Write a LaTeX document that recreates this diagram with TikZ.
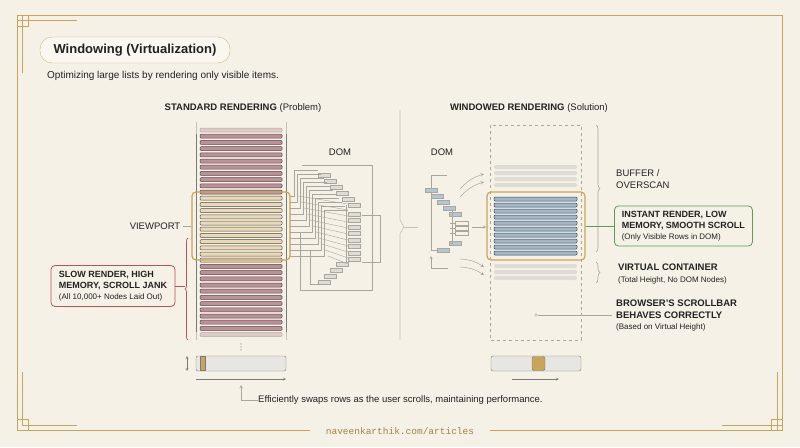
\documentclass[tikz,border=0pt]{standalone}
\usepackage{fontspec}
\setmainfont{Liberation Sans}
\newfontfamily\urlfont{Liberation Mono}
\usetikzlibrary{decorations.pathreplacing,positioning}
\definecolor{paper}{HTML}{F5F1E6}
\definecolor{gold}{HTML}{C9A45C}
\definecolor{ink}{HTML}{222222}
\definecolor{rowred}{HTML}{BE9096}
\definecolor{rowsand}{HTML}{EAD9B4}
\definecolor{rowblue}{HTML}{A3B6C8}
\definecolor{navy}{HTML}{3A4A5E}
\definecolor{fog}{HTML}{DEDCD5}
\definecolor{wire}{HTML}{A9A69C}
\definecolor{alert}{HTML}{B5545A}
\definecolor{okgreen}{HTML}{5E9A5A}

\tikzset{
  label/.style={font=\fontsize{9.5}{11.5}\selectfont, text=ink, align=left, inner sep=0pt},
  head/.style={font=\fontsize{9.5}{11}\selectfont, text=ink, inner sep=0pt},
  row/.style={draw=ink!80, line width=0.5pt, rounded corners=1pt},
  tbox/.style={draw=wire, fill=#1, line width=0.4pt},
  viewbox/.style={draw=gold, line width=1.2pt, rounded corners=4pt},
  callout/.style={draw=#1, line width=0.8pt, rounded corners=4pt, fill=paper,
                  font=\fontsize{9}{11}\selectfont, text=ink, align=left, inner sep=4pt},
}

\begin{document}
\begin{tikzpicture}[x=1pt,y=-1pt]

    \fill[paper] (0,0) rectangle (800,447);
    \useasboundingbox (0,0) rectangle (800,447);

    % frame
    \draw[gold, line width=0.9pt] (310,430) -- (17,430) -- (17,15) -- (782,15) -- (782,430) -- (490,430);
    \draw[gold, line width=0.6pt] (17,20) -- (77,20) (22,15) -- (22,73);
    \draw[gold, line width=0.6pt] (782,425) -- (722,425) (777,430) -- (777,372);
    \draw[gold, line width=0.6pt] (17,15) rectangle (28,26) (771,419) rectangle (782,430);
    \draw[gold, line width=0.6pt] (17,430) rectangle (28,419) (22,425) -- (77,425) (22,425) -- (22,372);
    \node[font=\urlfont\fontsize{9.5}{11}\selectfont, text=gold!80!black] (url) at (400,431) {naveenkarthik.com/articles};

    % title
    \node[draw=gold!80, fill=paper!60!white, rounded corners=12pt, minimum width=190pt, minimum height=26pt,
          font=\bfseries\fontsize{13}{15}\selectfont, text=ink] (title) at (135,50) {Windowing (Virtualization)};
    \node[label, anchor=west, font=\fontsize{10}{12}\selectfont] (sub) at (47,76) {Optimizing large lists by rendering only visible items.};

    % ---- standard rendering
    \node[head] (stdhead) at (243,108) {\textbf{STANDARD RENDERING} (Problem)};
    \draw[ink!60, line width=0.7pt] (196,122) -- (196,340) (286,122) -- (286,340);
    \foreach \i in {0,...,33} {
      \pgfmathsetmacro{\yy}{128+6.2*\i}
      \ifdim\yy pt<190pt
        \draw[row, fill=rowred] (200,\yy) rectangle (282,\yy+4);
      \else\ifdim\yy pt<259pt
        \draw[row, fill=rowsand] (200,\yy) rectangle (282,\yy+4);
      \else
        \draw[row, fill=rowred] (200,\yy) rectangle (282,\yy+4);
      \fi\fi
    }
    \fill[paper, opacity=0.6] (195,120) rectangle (287,134);
    \fill[paper, opacity=0.6] (195,332) rectangle (287,342);
    \node[viewbox, minimum width=98pt, minimum height=68pt] (stdview) at (241,226) {};
    \foreach \d in {344,347,350} \fill[ink!60] (241,\d) circle (0.6pt);

    \node[label] (vplabel) at (155,226) {VIEWPORT};
    \draw[wire] (vplabel.east) ++(3,0) -- (stdview.west);

    \draw[alert, line width=0.7pt, decorate, decoration={brace, amplitude=3pt, mirror}]
        (188,238) -- (188,340);
    \coordinate (bracetip) at (185,286);
    \node[callout=alert, minimum width=124pt, minimum height=41pt] (slow) at (113,286)
        {\textbf{SLOW RENDER, HIGH}\\\textbf{MEMORY, SCROLL JANK}\\{\fontsize{8}{9.5}\selectfont (All 10,000+ Nodes Laid Out)}};
    \draw[alert, line width=0.7pt] (slow.east) -- (bracetip);

    % left DOM tree
    \node[label] (domL) at (340,152) {DOM};
    \foreach \i in {0,...,5}
      \draw[tbox=fog] (318+6*\i,173+6*\i) rectangle (330+6*\i,177+6*\i);
    \foreach \i in {0,...,7}
      \draw[tbox=fog] (348,212+6.5*\i) rectangle (360,216+6.5*\i);
    \foreach \i in {0,...,3}
      \draw[tbox=fog] (336-6*\i,262+6*\i) rectangle (348-6*\i,266+6*\i);
    \foreach \i in {0,...,10} {
      \pgfmathsetmacro{\yy}{196+6*\i}
      \pgfmathsetmacro{\xx}{294+3*\i}
      \draw[wire, line width=0.4pt] (290,\yy) -- (\xx,\yy) -- (\xx,170+4*\i) -- (318+3*\i,170+4*\i);
      \draw[wire, line width=0.4pt] (\xx+4,\yy) -- (348,\yy+8);
    }
    \draw[wire, line width=0.4pt] (302,165) -- (372,165) -- (372,290) -- (300,290) -- (300,232);
    \draw[wire, line width=0.4pt] (362,215) -- (380,215) -- (380,262) -- (362,262);
    \draw[wire, line width=0.4pt] (346,205) -- (346,262) (310,250) -- (310,284) -- (320,284);

    % divider
    \draw[wire!70, line width=0.6pt] (400,110) -- (400,220) -- (404,227) -- (400,234) -- (400,340);
    \draw[wire!70, line width=0.6pt] (404,227) -- (418,227);

    % ---- windowed rendering
    \node[head] (winhead) at (529,108) {\textbf{WINDOWED RENDERING} (Solution)};
    \draw[wire, dashed, line width=0.5pt] (490,125) rectangle (581,340);
    \foreach \i in {0,...,3}
      \fill[fog, rounded corners=1.5pt] (494,165+6*\i) rectangle (577,169+6*\i);
    \foreach \i in {0,...,2}
      \fill[fog, rounded corners=1.5pt] (494,264+6*\i) rectangle (577,268+6*\i);
    \foreach \i in {0,...,9}
      \draw[row, draw=navy, fill=rowblue] (494,197+6*\i) rectangle (577,201+6*\i);
    \node[viewbox, minimum width=98pt, minimum height=68pt] (winview) at (536,226) {};

    % right DOM tree
    \node[label] (domR) at (442,152) {DOM};
    \foreach \i in {0,...,4}
      \draw[tbox=rowblue!80] (425+6*\i,188+6*\i) rectangle (437+6*\i,192+6*\i);
    \foreach \i in {0,...,2}
      \draw[tbox=paper] (455,221+5*\i) rectangle (468,225+5*\i);
    \draw[tbox=rowblue!80] (449,241) rectangle (461,245);
    \draw[tbox=rowblue!80] (437,248) rectangle (449,252);
    \draw[wire, line width=0.4pt] (447,175) -- (431,175) -- (431,188) (431,192) -- (431,250) -- (437,250);
    \draw[wire, line width=0.4pt] (452,210) -- (452,243) -- (449,243) (450,223) -- (455,223) (450,228) -- (455,228) (450,233) -- (455,233);
    \draw[wire, ->, >=stealth] (472,227) -- (486,227);
    \draw[wire, line width=0.4pt, ->, >=stealth] (431,268) -- (431,256);
    \draw[wire, line width=0.4pt] (431,268) -- (448,268);
    \foreach \dy in {0,8} {
      \draw[wire, line width=0.5pt, ->, >=stealth] (460,189+\dy) to[bend left=15] (484,174+\dy);
      \draw[wire, line width=0.5pt, ->, >=stealth] (460,259+\dy) to[bend left=15] (484,267+\dy);
    }

    % braces and callouts
    \draw[wire, line width=0.6pt, decorate, decoration={brace, amplitude=4pt}] (596,125) -- (596,252);
    \draw[wire, line width=0.6pt, decorate, decoration={brace, amplitude=4pt}] (596,262) -- (596,283);
    \node[label, anchor=west] (buffer) at (616,179) {BUFFER /\\OVERSCAN};
    \node[callout=okgreen, minimum width=138pt, minimum height=40pt, anchor=west] (instant) at (614,226)
        {\textbf{INSTANT RENDER, LOW}\\\textbf{MEMORY, SMOOTH SCROLL}\\{\fontsize{8}{9.5}\selectfont (Only Visible Rows in DOM)}};
    \draw[okgreen, line width=0.7pt] (winview.east) -- (instant.west);
    \node[label, anchor=west] (virtual) at (618,274)
        {\textbf{VIRTUAL CONTAINER}\\{\fontsize{8}{9.5}\selectfont (Total Height, No DOM Nodes)}};
    \node[label, anchor=west] (browser) at (616,316)
        {\textbf{BROWSER'S SCROLLBAR}\\\textbf{BEHAVES CORRECTLY}\\{\fontsize{8}{9.5}\selectfont (Based on Virtual Height)}};
    \node[circle, draw=wire, inner sep=1pt] (probe) at (536,315) {};
    \draw[wire, line width=0.5pt] (probe) -- (612,315);

    % scrollbars
    \node[draw=ink!60, fill=fog!70, rounded corners=2pt, minimum width=90pt, minimum height=15pt] (barL) at (241,363.5) {};
    \draw[ink!60, fill=gold] (200,356.5) rectangle (205,370.5);
    \draw[ink!60, <->, >=stealth] (187,356) -- (187,371);
    \draw[ink!60, ->, >=stealth] (196,379) -- (286,379);
    \node[draw=ink!60, fill=fog!70, rounded corners=2pt, minimum width=90pt, minimum height=15pt] (barR) at (536,363.5) {};
    \draw[ink!60, fill=gold, rounded corners=1.5pt] (532,356.5) rectangle (545,370.5);
    \draw[ink!60, ->, >=stealth] (512,379) -- (559,379);

    \node[label, anchor=west] (swap) at (258,400) {Efficiently swaps rows as the user scrolls, maintaining performance.};
    \draw[wire, line width=0.5pt, <-, >=stealth] (241,385) -- (241,400) -- (swap.west);

\end{tikzpicture}
\end{document}
